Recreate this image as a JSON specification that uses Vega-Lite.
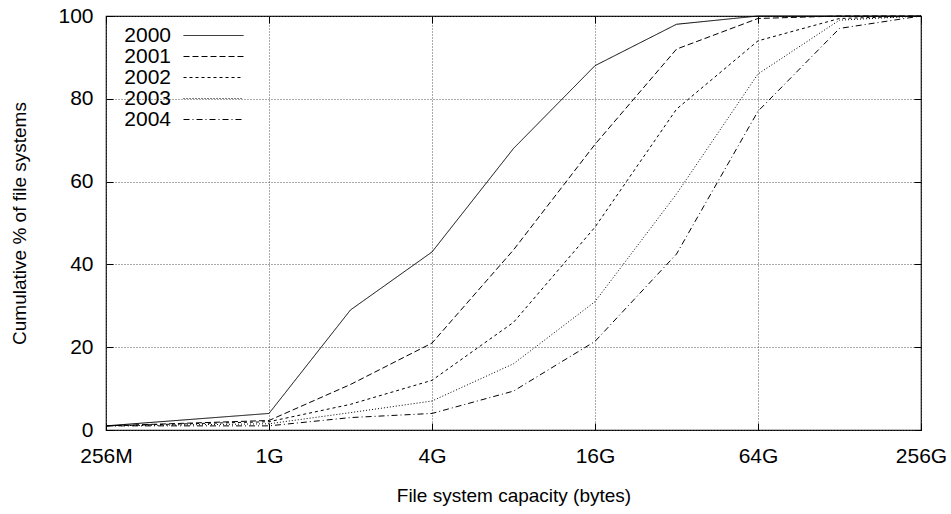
{
  "$schema": "https://vega.github.io/schema/vega-lite/v6.json",
  "width": 815,
  "height": 414,
  "autosize": {"type": "none"},
  "padding": {"left": 106, "top": 16, "right": 30, "bottom": 84},
  "config": {
    "font": "Liberation Sans",
    "view": {"stroke": "black", "strokeWidth": 1.2},
    "axis": {
      "domain": false,
      "tickColor": "black",
      "tickWidth": 1,
      "labelColor": "black",
      "titleColor": "black",
      "titleFontWeight": "normal",
      "labelFontSize": 21,
      "titleFontSize": 19,
      "gridColor": "#555",
      "gridDash": [1, 2],
      "gridWidth": 1
    }
  },
  "data": {
    "values": [
      {"year": "2000", "gb": 0.25, "pct": 1},
      {"year": "2000", "gb": 1, "pct": 4},
      {"year": "2000", "gb": 2, "pct": 29},
      {"year": "2000", "gb": 4, "pct": 43},
      {"year": "2000", "gb": 8, "pct": 68},
      {"year": "2000", "gb": 16, "pct": 88},
      {"year": "2000", "gb": 32, "pct": 98},
      {"year": "2000", "gb": 64, "pct": 100},
      {"year": "2000", "gb": 128, "pct": 100},
      {"year": "2000", "gb": 256, "pct": 100},
      {"year": "2001", "gb": 0.25, "pct": 1},
      {"year": "2001", "gb": 1, "pct": 2.3},
      {"year": "2001", "gb": 2, "pct": 11},
      {"year": "2001", "gb": 4, "pct": 21},
      {"year": "2001", "gb": 8, "pct": 43.5},
      {"year": "2001", "gb": 16, "pct": 69},
      {"year": "2001", "gb": 32, "pct": 92},
      {"year": "2001", "gb": 64, "pct": 99.4},
      {"year": "2001", "gb": 128, "pct": 100},
      {"year": "2001", "gb": 256, "pct": 100},
      {"year": "2002", "gb": 0.25, "pct": 1},
      {"year": "2002", "gb": 1, "pct": 2},
      {"year": "2002", "gb": 2, "pct": 6.2},
      {"year": "2002", "gb": 4, "pct": 12},
      {"year": "2002", "gb": 8, "pct": 26},
      {"year": "2002", "gb": 16, "pct": 49},
      {"year": "2002", "gb": 32, "pct": 77.5},
      {"year": "2002", "gb": 64, "pct": 94},
      {"year": "2002", "gb": 128, "pct": 99.4},
      {"year": "2002", "gb": 256, "pct": 100},
      {"year": "2003", "gb": 0.25, "pct": 1},
      {"year": "2003", "gb": 1, "pct": 1.5},
      {"year": "2003", "gb": 2, "pct": 4.2},
      {"year": "2003", "gb": 4, "pct": 7},
      {"year": "2003", "gb": 8, "pct": 16},
      {"year": "2003", "gb": 16, "pct": 31},
      {"year": "2003", "gb": 32, "pct": 57},
      {"year": "2003", "gb": 64, "pct": 86},
      {"year": "2003", "gb": 128, "pct": 99},
      {"year": "2003", "gb": 256, "pct": 100},
      {"year": "2004", "gb": 0.25, "pct": 1},
      {"year": "2004", "gb": 1, "pct": 1},
      {"year": "2004", "gb": 2, "pct": 3},
      {"year": "2004", "gb": 4, "pct": 4},
      {"year": "2004", "gb": 8, "pct": 9.4},
      {"year": "2004", "gb": 16, "pct": 21.4},
      {"year": "2004", "gb": 32, "pct": 42.5},
      {"year": "2004", "gb": 64, "pct": 77},
      {"year": "2004", "gb": 128, "pct": 97},
      {"year": "2004", "gb": 256, "pct": 100}
    ]
  },
  "layer": [
    {
      "mark": {"type": "line", "color": "black", "strokeWidth": 1},
      "encoding": {
        "x": {
          "field": "gb",
          "type": "quantitative",
          "scale": {"type": "log", "base": 2, "domain": [0.25, 256]},
          "axis": {
            "orient": "bottom",
            "title": "File system capacity (bytes)",
            "values": [0.25, 1, 4, 16, 64, 256],
            "labelExpr": "datum.value < 1 ? '256M' : datum.value + 'G'",
            "grid": true,
            "tickSize": -7,
            "labelPadding": 22,
            "titlePadding": 20,
            "labelFlush": false,
            "labelOverlap": false
          }
        },
        "y": {
          "field": "pct",
          "type": "quantitative",
          "scale": {"domain": [0, 100]},
          "axis": {
            "orient": "left",
            "title": "Cumulative % of file systems",
            "values": [0, 20, 40, 60, 80, 100],
            "grid": true,
            "tickSize": -7,
            "labelPadding": 20,
            "titlePadding": 28,
            "labelFlush": false,
            "labelOverlap": false
          }
        },
        "strokeDash": {
          "field": "year",
          "type": "nominal",
          "scale": {
            "domain": ["2000", "2001", "2002", "2003", "2004"],
            "range": [[1, 0], [6, 3], [3, 3], [1, 2], [6, 3, 1, 3]]
          },
          "legend": {
            "orient": "none",
            "legendX": 97,
            "legendY": 9,
            "title": null,
            "symbolType": "M-3,0H3",
            "symbolSize": 400,
            "symbolStrokeColor": "black",
            "symbolStrokeWidth": 1,
            "labelFontSize": 21,
            "labelColor": "black",
            "labelAlign": "right",
            "labelOffset": -53,
            "rowPadding": -1.1
          }
        }
      }
    },
    {
      "mark": {"type": "point", "opacity": 0},
      "encoding": {
        "x": {
          "field": "gb",
          "type": "quantitative",
          "scale": {"type": "log", "base": 2, "domain": [0.25, 256]},
          "axis": {
            "orient": "top",
            "title": null,
            "values": [0.25, 1, 4, 16, 64, 256],
            "labels": false,
            "grid": false,
            "tickSize": -7
          }
        },
        "y": {
          "field": "pct",
          "type": "quantitative",
          "scale": {"domain": [0, 100]},
          "axis": {
            "orient": "right",
            "title": null,
            "values": [0, 20, 40, 60, 80, 100],
            "labels": false,
            "grid": false,
            "tickSize": -7
          }
        }
      }
    }
  ],
  "resolve": {"axis": {"x": "independent", "y": "independent"}}
}
